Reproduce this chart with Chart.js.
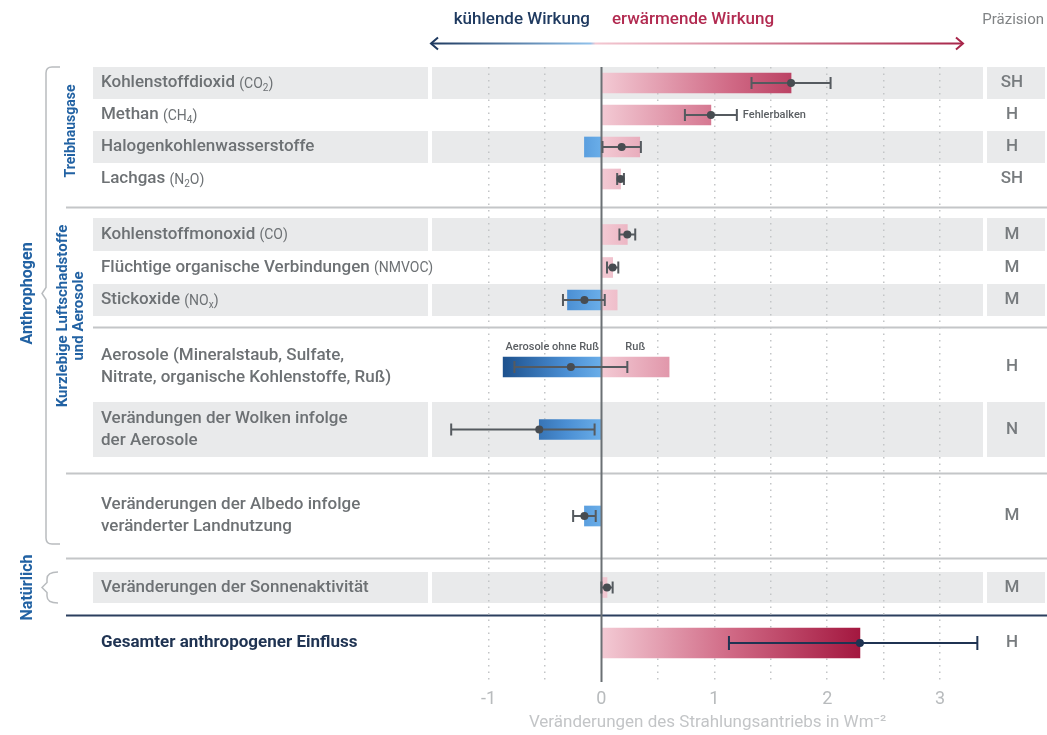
<!DOCTYPE html>
<html lang="de">
<head>
<meta charset="utf-8">
<title>Strahlungsantrieb</title>
<script src="https://cdn.jsdelivr.net/npm/chart.js@4"></script>
<style>
  html, body { margin: 0; padding: 0; background: #fff; }
  #chart { display: block; }
</style>
</head>
<body>
<canvas id="chart" width="1047" height="735"></canvas>
<script>
// Strahlungsantrieb 1750-2011 nach Faktoren, in Wm-2
const labels = [
    'Kohlenstoffdioxid',
    'Methan',
    'Halogenkohlenwasserstoffe',
    'Lachgas',
    'Kohlenstoffmonoxid',
    'Flüchtige organische Verbindungen',
    'Stickoxide',
    'Aerosole (Mineralstaub, Sulfate,\nNitrate, organische Kohlenstoffe, Ruß)',
    'Verändungen der Wolken infolge\nder Aerosole',
    'Veränderungen der Albedo infolge\nveränderter Landnutzung',
    'Veränderungen der Sonnenaktivität',
    'Gesamter anthropogener Einfluss'
];
const formulas = ['CO_2', 'CH_4', '', 'N_2O', 'CO', 'NMVOC', 'NO_x', '', '', '', '', ''];

// Balkenanteile: kühlend (negativ) und erwärmend (positiv)
const cooling = [null, null, -0.15, null, null, null, -0.30, -0.87, -0.55, -0.15, null, null];
const warming = [1.68, 0.97, 0.34, 0.17, 0.23, 0.10, 0.14, 0.60, null, null, 0.05, 2.29];

// Bester Schätzwert und Fehlerbalken
const best = [1.68, 0.97, 0.18, 0.17, 0.23, 0.10, -0.15, -0.27, -0.55, -0.15, 0.05, 2.29];
const low  = [1.33, 0.74, 0.01, 0.14, 0.16, 0.05, -0.34, -0.77, -1.33, -0.25, 0.00, 1.13];
const high = [2.03, 1.20, 0.35, 0.20, 0.30, 0.15, 0.03, 0.23, -0.06, -0.05, 0.10, 3.33];

const precision = ['SH', 'H', 'H', 'SH', 'M', 'M', 'M', 'H', 'N', 'M', 'M', 'H'];
const xTicks = [-1, 0, 1, 2, 3];

// Zeilenlayout (Einheiten der y-Achse = Pixel)
const rowHeights = [32, 32, 32, 32, 33, 33, 32, 58, 55, 56, 31, 32];
const rowGaps    = [0, 0, 0, 0, 23, 0, 0, 22, 6, 31, 28, 24];
const shaded     = [1, 0, 1, 0, 1, 0, 1, 0, 1, 0, 1, 0];
const separators = [
    { after: 3, from: 66, color: '#c4c6c8' },
    { after: 6, from: 93, color: '#c4c6c8' },
    { after: 8, from: 66, color: '#c4c6c8' },
    { after: 9, from: 66, color: '#c4c6c8' },
    { after: 10, from: 66, color: '#2b3f5e' }
];

const rowTop = [];
let acc = 0;
rowHeights.forEach((h, i) => {
    acc += rowGaps[i];
    rowTop.push(acc);
    acc += h;
});
const rowCenter = rowTop.map((t, i) => t + rowHeights[i] / 2);
const TOTAL = labels.length - 1;

const FONT = 'Roboto, "Liberation Sans", sans-serif';
const GREY_TEXT = '#6d7174';
const NAVY = '#1f3352';
const GROUP_BLUE = '#2262a3';

function pinkGradient(chart) {
    if (!chart.chartArea) return '#dc8aa0';
    const x = chart.scales.x;
    const g = chart.ctx.createLinearGradient(x.getPixelForValue(0), 0, x.getPixelForValue(2.3), 0);
    g.addColorStop(0, '#f3cad4');
    g.addColorStop(0.5, '#d06985');
    g.addColorStop(1, '#a3173f');
    return g;
}

function blueGradient(chart) {
    if (!chart.chartArea) return '#4b8fd3';
    const x = chart.scales.x;
    const g = chart.ctx.createLinearGradient(x.getPixelForValue(0), 0, x.getPixelForValue(-0.9), 0);
    g.addColorStop(0, '#6aaee9');
    g.addColorStop(0.35, '#4a8ed3');
    g.addColorStop(1, '#1b4e8a');
    return g;
}

// Text mit kleinerer Formel in Klammern, "_" markiert Index
function drawRich(ctx, x, y, main, formula, color, weight) {
    ctx.fillStyle = color;
    ctx.textBaseline = 'middle';
    ctx.textAlign = 'left';
    ctx.font = weight + ' 17px ' + FONT;
    ctx.fillText(main, x, y);
    if (!formula) return;
    x += ctx.measureText(main + ' ').width;
    const parts = ('(' + formula + ')').split(/(_.)/);
    parts.forEach(p => {
        if (!p) return;
        if (p[0] === '_') {
            ctx.font = '10px ' + FONT;
            ctx.fillText(p[1], x, y + 5);
            x += ctx.measureText(p[1]).width;
        } else {
            ctx.font = '14px ' + FONT;
            ctx.fillText(p, x, y + 1);
            x += ctx.measureText(p).width;
        }
    });
}

function rotatedText(ctx, lines, x, y, size, color) {
    ctx.save();
    ctx.translate(x, y);
    ctx.rotate(-Math.PI / 2);
    ctx.fillStyle = color;
    ctx.font = 'bold ' + size + 'px ' + FONT;
    ctx.textAlign = 'center';
    ctx.textBaseline = 'middle';
    lines.forEach((l, i) => ctx.fillText(l, 0, (i - (lines.length - 1) / 2) * (size + 1)));
    ctx.restore();
}

const backdrop = {
    id: 'backdrop',
    beforeDraw(chart) {
        const { ctx, chartArea } = chart;
        const y = chart.scales.y;
        const W = chart.width;
        ctx.save();

        // graue Zeilenbänder
        ctx.fillStyle = '#e9eaeb';
        rowTop.forEach((t, i) => {
            if (!shaded[i]) return;
            const y0 = y.getPixelForValue(t);
            const y1 = y.getPixelForValue(t + rowHeights[i]);
            ctx.fillRect(93, y0, 335, y1 - y0);
            ctx.fillRect(chartArea.left, y0, chartArea.right - chartArea.left, y1 - y0);
            ctx.fillRect(chartArea.right + 4, y0, W - chartArea.right - 6, y1 - y0);
        });

        // Trennlinien
        separators.forEach(s => {
            const i = s.after;
            const yy = Math.round(y.getPixelForValue((rowTop[i] + rowHeights[i] + rowTop[i + 1]) / 2)) + 0.5;
            ctx.strokeStyle = s.color;
            ctx.lineWidth = 2;
            ctx.beginPath();
            ctx.moveTo(s.from, yy);
            ctx.lineTo(W, yy);
            ctx.stroke();
        });

        // Zeilenbeschriftungen und Präzision
        labels.forEach((lab, i) => {
            const cy = y.getPixelForValue(rowCenter[i]);
            const lines = lab.split('\n');
            const isTotal = i === TOTAL;
            lines.forEach((l, k) => {
                const ly = cy + (k - (lines.length - 1) / 2) * 22;
                drawRich(ctx, 101, ly, l, k === lines.length - 1 ? formulas[i] : '',
                    isTotal ? NAVY : GREY_TEXT, isTotal ? 'bold' : '500');
            });
            ctx.font = '500 17px ' + FONT;
            ctx.fillStyle = '#777b7e';
            ctx.textAlign = 'center';
            ctx.fillText(precision[i], 1012, cy);
        });

        // Kopfzeile
        ctx.textBaseline = 'middle';
        ctx.font = '500 17px ' + FONT;
        ctx.textAlign = 'right';
        ctx.fillStyle = '#1f3a60';
        ctx.fillText('kühlende Wirkung', 590, 20);
        ctx.textAlign = 'left';
        ctx.fillStyle = '#b22b51';
        ctx.fillText('erwärmende Wirkung', 612, 20);
        ctx.fillStyle = '#808385';
        ctx.font = '15px ' + FONT;
        ctx.textAlign = 'right';
        ctx.fillText('Präzision', 1044, 20);

        const ay = 43.5;
        const ag = ctx.createLinearGradient(430, 0, 964, 0);
        ag.addColorStop(0, '#1f3a60');
        ag.addColorStop(0.3, '#8fc0ea');
        ag.addColorStop(0.31, '#f3c7d1');
        ag.addColorStop(1, '#a8264a');
        ctx.strokeStyle = ag;
        ctx.lineWidth = 2;
        ctx.beginPath();
        ctx.moveTo(431, ay);
        ctx.lineTo(963, ay);
        ctx.stroke();
        ctx.beginPath();
        ctx.strokeStyle = '#1f3a60';
        ctx.moveTo(438, ay - 6);
        ctx.lineTo(431, ay);
        ctx.lineTo(438, ay + 6);
        ctx.stroke();
        ctx.beginPath();
        ctx.strokeStyle = '#a8264a';
        ctx.moveTo(956, ay - 6);
        ctx.lineTo(963, ay);
        ctx.lineTo(956, ay + 6);
        ctx.stroke();

        // Klammern und Gruppen
        ctx.strokeStyle = '#b9bcbf';
        ctx.lineWidth = 1.5;
        const bTop = y.getPixelForValue(rowTop[0]);
        const bBot = y.getPixelForValue(rowTop[9] + rowHeights[9]);
        const bMid = (bTop + bBot) / 2 - 12;
        ctx.beginPath();
        ctx.moveTo(60, bTop);
        ctx.lineTo(52, bTop);
        ctx.quadraticCurveTo(46, bTop, 46, bTop + 6);
        ctx.lineTo(46, bMid - 6);
        ctx.lineTo(42, bMid);
        ctx.lineTo(46, bMid + 6);
        ctx.lineTo(46, bBot - 6);
        ctx.quadraticCurveTo(46, bBot, 52, bBot);
        ctx.lineTo(60, bBot);
        ctx.stroke();

        const nTop = y.getPixelForValue(rowTop[10]);
        const nBot = y.getPixelForValue(rowTop[10] + rowHeights[10]);
        const nMid = (nTop + nBot) / 2;
        ctx.beginPath();
        ctx.moveTo(58, nTop);
        ctx.quadraticCurveTo(47, nTop, 47, nTop + 7);
        ctx.lineTo(47, nMid - 5);
        ctx.lineTo(42, nMid);
        ctx.lineTo(47, nMid + 5);
        ctx.lineTo(47, nBot - 7);
        ctx.quadraticCurveTo(47, nBot, 58, nBot);
        ctx.stroke();

        rotatedText(ctx, ['Anthrophogen'], 28, bMid, 16, GROUP_BLUE);
        rotatedText(ctx, ['Natürlich'], 28, nMid, 16, GROUP_BLUE);
        const gTop = y.getPixelForValue(rowTop[0]);
        const gBot = y.getPixelForValue(rowTop[3] + rowHeights[3]);
        rotatedText(ctx, ['Treibhausgase'], 71, (gTop + gBot) / 2, 14, GROUP_BLUE);
        rotatedText(ctx, ['Kurzlebige Luftschadstoffe', 'und Aerosole'], 71, 316, 15, GROUP_BLUE);

        ctx.restore();
    }
};

const errorBars = {
    id: 'errorBars',
    afterDatasetsDraw(chart) {
        const { ctx, chartArea } = chart;
        const x = chart.scales.x;
        const y = chart.scales.y;
        ctx.save();

        // Nulllinie
        const x0 = Math.round(x.getPixelForValue(0)) + 0.5;
        ctx.strokeStyle = '#6b7074';
        ctx.lineWidth = 2;
        ctx.beginPath();
        ctx.moveTo(x0, chartArea.top);
        ctx.lineTo(x0, chartArea.bottom);
        ctx.stroke();

        best.forEach((b, i) => {
            const cy = y.getPixelForValue(rowCenter[i]);
            const isTotal = i === TOTAL;
            const col = isTotal ? NAVY : '#555a5f';
            const cap = isTotal ? 7 : 6;
            const xl = x.getPixelForValue(low[i]);
            const xh = x.getPixelForValue(high[i]);
            ctx.strokeStyle = col;
            ctx.lineWidth = 2;
            ctx.beginPath();
            ctx.moveTo(xl, cy);
            ctx.lineTo(xh, cy);
            ctx.moveTo(xl, cy - cap);
            ctx.lineTo(xl, cy + cap);
            ctx.moveTo(xh, cy - cap);
            ctx.lineTo(xh, cy + cap);
            ctx.stroke();
            ctx.fillStyle = isTotal ? NAVY : '#474c51';
            ctx.beginPath();
            ctx.arc(x.getPixelForValue(b), cy, 4, 0, Math.PI * 2);
            ctx.fill();
        });

        // Hinweise
        ctx.font = '500 11px ' + FONT;
        ctx.fillStyle = '#5a5e62';
        ctx.textBaseline = 'middle';
        ctx.textAlign = 'left';
        ctx.fillText('Fehlerbalken', x.getPixelForValue(high[1]) + 6, y.getPixelForValue(rowCenter[1]));
        const ay = y.getPixelForValue(rowCenter[7]) - 20;
        ctx.textAlign = 'center';
        ctx.fillText('Aerosole ohne Ruß', x.getPixelForValue(cooling[7] / 2), ay);
        ctx.fillText('Ruß', x.getPixelForValue(warming[7] / 2), ay);

        ctx.restore();
    }
};

const rows = labels.map((_, i) => i).filter(i => i !== TOTAL);

new Chart(document.getElementById('chart'), {
    type: 'bar',
    data: {
        datasets: [{
            label: 'kühlende Wirkung',
            data: rows.filter(i => cooling[i] !== null).map(i => ({ x: [cooling[i], 0], y: rowCenter[i] })),
            backgroundColor: ctx => blueGradient(ctx.chart),
            barThickness: 20,
            grouped: false
        }, {
            label: 'erwärmende Wirkung',
            data: rows.filter(i => warming[i] !== null).map(i => ({ x: [0, warming[i]], y: rowCenter[i] })),
            backgroundColor: ctx => pinkGradient(ctx.chart),
            barThickness: 20,
            grouped: false
        }, {
            label: labels[TOTAL],
            data: [{ x: [0, warming[TOTAL]], y: rowCenter[TOTAL] }],
            backgroundColor: ctx => pinkGradient(ctx.chart),
            barThickness: 30,
            grouped: false
        }]
    },
    options: {
        indexAxis: 'y',
        responsive: false,
        animation: false,
        devicePixelRatio: 1,
        layout: { padding: { left: 432, right: 64, top: 67, bottom: 0 } },
        plugins: {
            legend: { display: false },
            tooltip: { enabled: false }
        },
        scales: {
            y: {
                type: 'linear',
                display: false,
                reverse: true,
                offset: false,
                min: 0,
                max: 615
            },
            x: {
                type: 'linear',
                min: -1.5,
                max: 3.38,
                afterBuildTicks(scale) {
                    const t = [];
                    for (let v = -1; v <= 3; v += 0.5) t.push({ value: v });
                    scale.ticks = t;
                },
                afterFit(scale) {
                    scale.height = 53;
                },
                grid: {
                    drawTicks: false,
                    lineWidth: 1.5,
                    color: c => c.tick && c.tick.value === 0 ? 'rgba(0,0,0,0)' : '#c3c5c7'
                },
                border: { display: false, dash: [1.5, 5] },
                ticks: {
                    padding: 7,
                    color: '#b8bbbd',
                    font: { family: FONT, size: 18 },
                    callback: v => xTicks.includes(v) ? String(v) : ''
                },
                title: {
                    display: true,
                    text: 'Veränderungen des Strahlungsantriebs in Wm⁻²',
                    color: '#c3c5c7',
                    font: { family: FONT, size: 17 },
                    padding: { top: 2, bottom: 2 }
                }
            }
        }
    },
    plugins: [backdrop, errorBars]
});
</script>
</body>
</html>
